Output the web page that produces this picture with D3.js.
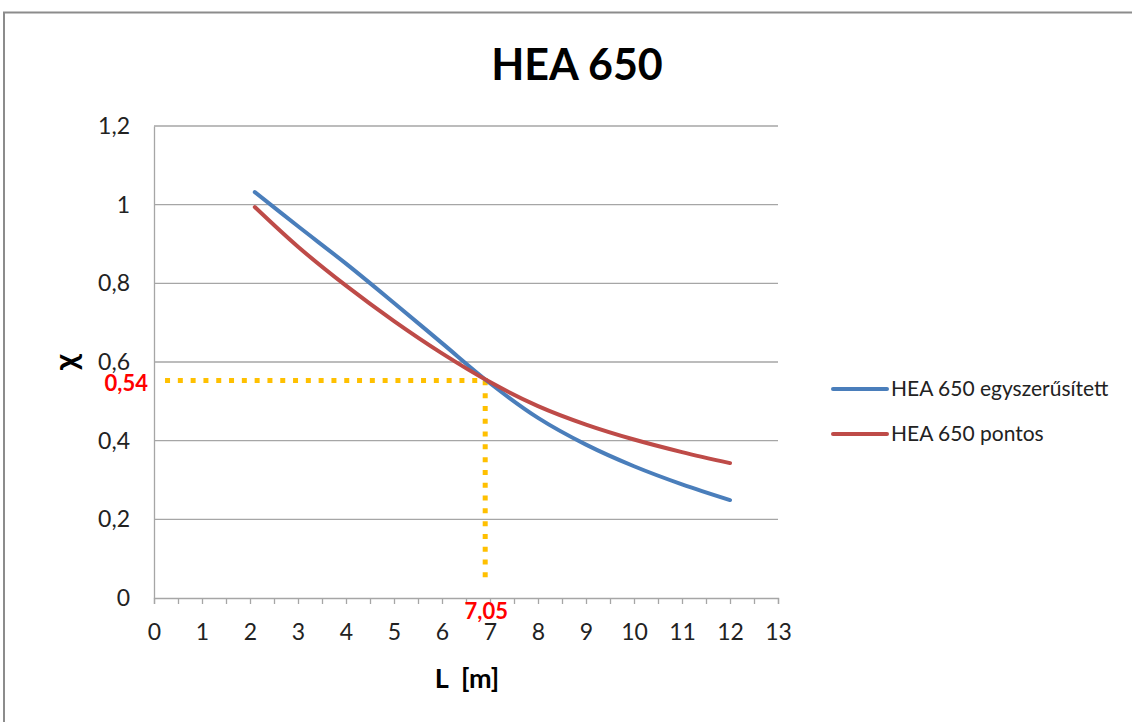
<!DOCTYPE html>
<html>
<head>
<meta charset="utf-8">
<script src="https://cdn.jsdelivr.net/npm/d3@7"></script>
<style>
  body { margin: 0; background: #fff; }
  text { font-family: Lato, "Open Sans", sans-serif; }
</style>
</head>
<body>
<div id="chart"></div>
<script>
// data
var lengths = [2.1, 3, 4, 5, 6, 7, 8, 9, 10, 11, 12];
var simplified = [1.032, 0.945, 0.85, 0.75, 0.648, 0.546, 0.458, 0.39, 0.335, 0.289, 0.249];
var exact = [0.994, 0.893, 0.794, 0.704, 0.622, 0.549, 0.488, 0.441, 0.403, 0.371, 0.343];
var seriesNames = ["HEA 650 egyszerűsített", "HEA 650 pontos"];
var xTicks = [0, 1, 2, 3, 4, 5, 6, 7, 8, 9, 10, 11, 12, 13];
var yTicks = [0, 0.2, 0.4, 0.6, 0.8, 1, 1.2];
var guide = [[0.23, 0.553], [6.9, 0.553], [6.9, 0.035]];
var guideLabels = ["0,54", "7,05"];

var W = 1132, H = 722;
var margin = { top: 126, left: 154, right: 354, bottom: 124 };
var width = W - margin.left - margin.right,
  height = H - margin.top - margin.bottom;

var svg = d3.select("#chart").append("svg")
  .attr("width", W)
  .attr("height", H);

// outer frame
svg.append("path")
  .attr("d", "M4," + H + " L4,12.5 L" + W + ",12.5")
  .attr("fill", "none")
  .attr("stroke", "#8c8c8c")
  .attr("stroke-width", 2);

svg.append("text")
  .attr("x", 577)
  .attr("y", 80)
  .attr("text-anchor", "middle")
  .attr("font-size", 43)
  .attr("font-weight", "bold")
  .text("HEA 650");

var g = svg.append("g")
  .attr("transform", "translate(" + margin.left + "," + margin.top + ")");

var x = d3.scaleLinear().domain([0, 13]).range([0, width]);
var y = d3.scaleLinear().domain([0, 1.2]).range([height, 0]);

// gridlines
g.append("g")
  .selectAll("line")
  .data(yTicks.filter(d => d > 0))
  .enter()
  .append("line")
  .attr("x1", 0)
  .attr("x2", width)
  .attr("y1", d => y(d))
  .attr("y2", d => y(d))
  .attr("stroke", "#a6a6a6")
  .attr("stroke-width", 1.3);

// y axis
var yAxis = g.append("g")
  .call(d3.axisLeft(y).tickValues(yTicks).tickSize(0).tickPadding(24)
    .tickFormat(d => String(d).replace(".", ",")));
yAxis.select(".domain").attr("stroke", "#a6a6a6").attr("stroke-width", 1.3);
yAxis.selectAll("text").attr("font-size", 23).attr("fill", "#222")
  .attr("font-family", "Lato, sans-serif");

// x axis: ticks every 0.5, labels at integers
var xAxis = g.append("g")
  .attr("transform", "translate(0," + height + ")")
  .call(d3.axisBottom(x).tickValues(d3.range(0, 13.01, 0.5)).tickSize(6).tickPadding(20)
    .tickFormat(d => (xTicks.indexOf(d) >= 0 ? d : "")));
xAxis.select(".domain").attr("stroke", "#a6a6a6").attr("stroke-width", 1.3);
xAxis.selectAll(".tick line").attr("stroke", "#a6a6a6").attr("stroke-width", 1.3);
xAxis.selectAll("text").attr("font-size", 23).attr("fill", "#222")
  .attr("font-family", "Lato, sans-serif");

// axis titles
svg.append("text")
  .attr("transform", "translate(77,362) rotate(-90)")
  .attr("text-anchor", "middle")
  .attr("font-size", 32)
  .attr("font-weight", "bold")
  .text("χ");

svg.append("text")
  .attr("x", 467)
  .attr("y", 688)
  .attr("text-anchor", "middle")
  .attr("font-size", 27)
  .attr("font-weight", "bold")
  .attr("xml:space", "preserve")
  .text("L  [m]");

// guide (dotted)
g.append("path")
  .datum(guide)
  .attr("fill", "none")
  .attr("stroke", "#ffc000")
  .attr("stroke-width", 5)
  .attr("stroke-dasharray", "5,7.8")
  .attr("d", d3.line().x(d => x(d[0])).y(d => y(d[1])));

var line = d3.line()
  .curve(d3.curveCatmullRom.alpha(0.5))
  .x(d => x(d[0]))
  .y(d => y(d[1]));

var colors = ["#4a7ebb", "#be4b48"];
[simplified, exact].forEach(function(vals, i) {
  g.append("path")
    .datum(lengths.map((l, j) => [l, vals[j]]))
    .attr("fill", "none")
    .attr("stroke", colors[i])
    .attr("stroke-width", 4)
    .attr("stroke-linecap", "round")
    .attr("d", line);
});

// guide labels
svg.append("text")
  .attr("x", 148)
  .attr("y", 391)
  .attr("text-anchor", "end")
  .attr("font-size", 22)
  .attr("font-weight", "bold")
  .attr("fill", "#ff0000")
  .text(guideLabels[0]);

svg.append("text")
  .attr("x", margin.left + x(guide[1][0]) + 1)
  .attr("y", 619)
  .attr("text-anchor", "middle")
  .attr("font-size", 22)
  .attr("font-weight", "bold")
  .attr("fill", "#ff0000")
  .text(guideLabels[1]);

// legend
var legend = svg.append("g").attr("transform", "translate(833,389)");
seriesNames.forEach(function(name, i) {
  var row = legend.append("g").attr("transform", "translate(0," + i * 45 + ")");
  row.append("line")
    .attr("x1", 0).attr("x2", 54)
    .attr("stroke", colors[i])
    .attr("stroke-width", 4)
    .attr("stroke-linecap", "round");
  row.append("text")
    .attr("x", 58)
    .attr("y", 7)
    .attr("font-size", 21)
    .attr("fill", "#222")
    .text(name);
});
</script>
</body>
</html>
